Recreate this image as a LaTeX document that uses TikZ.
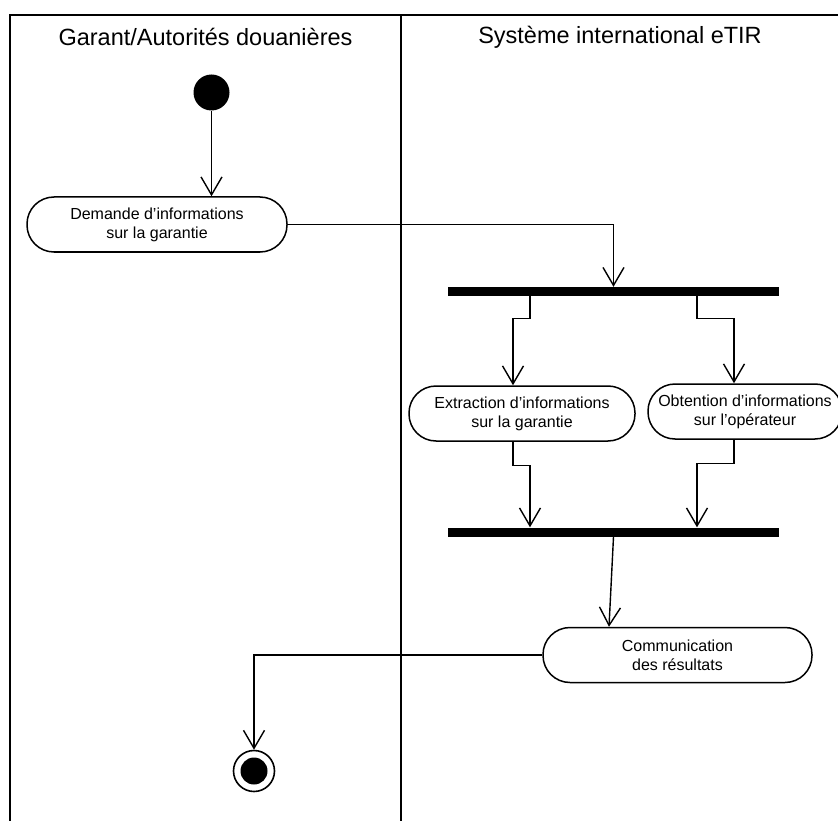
\documentclass[tikz,border=0pt]{standalone}
\usepackage{fontspec}
\setmainfont{Liberation Sans}
\usetikzlibrary{arrows.meta}
\begin{document}
\begin{tikzpicture}[x=1pt,y=-1pt,
  frameline/.style={line width=1.8pt},
  flow/.style={line width=1.4pt,-{Straight Barb[length=18pt,width=21pt,line width=1.4pt]}},
  activity/.style={draw,line width=1.5pt,rectangle,rounded corners=27pt,inner sep=0pt,
     align=center,minimum height=55pt,font=\fontsize{16}{19}\selectfont},
  bar/.style={fill=black,rectangle,inner sep=0pt,minimum width=331pt,minimum height=9pt},
  lanetitle/.style={font=\fontsize{23.5}{28}\selectfont,inner sep=0pt}]
\useasboundingbox (0,0) rectangle (838,821);
\begin{scope}
\clip (0,0) rectangle (838,821);
% swimlane frame
\draw[frameline] (10,822) -- (10,15) -- (839,15);
\draw[frameline] (401,15) -- (401,822);
\node[lanetitle] (t1) at (205.5,37) {Garant/Autorités douanières};
\node[lanetitle] (t2) at (620,37) {Système international eTIR};
% nodes
\node[circle,fill=black,minimum size=36pt,inner sep=0pt] (start) at (211.5,92.5) {};
\node[activity,minimum width=260pt] (act1) at (157,224.5) {Demande d’informations\\sur la garantie};
\node[bar] (fork) at (613.5,291.5) {};
\node[activity,minimum width=226pt] (act2) at (522,413.5) {Extraction d’informations\\sur la garantie};
\node[activity,minimum width=194pt] (act3) at (745,411.5) {Obtention d’informations\\sur l’opérateur};
\node[bar] (join) at (613.5,532) {};
\node[activity,minimum width=269pt] (comm) at (677.5,655) {Communication\\des résultats};
\node[circle,draw,fill=white,line width=1.6pt,minimum size=41pt,inner sep=0pt] (final) at (254,771) {};
\fill (final.center) circle (13.5);
% connectors
\draw[flow] (start.south) -- (start.south |- act1.north);
\draw[flow] (act1.east) -| (fork.north);
\draw[flow] ([xshift=-83.5pt]fork.south) -- ++(0,22) -| ([xshift=-9pt]act2.north);
\draw[flow] ([xshift=83.5pt]fork.south) -- ++(0,22) -| ([xshift=-11pt]act3.north);
\draw[flow] ([xshift=-9pt]act2.south) -- ++(0,24) -| ([xshift=-83.5pt]join.north);
\draw[flow] ([xshift=-11pt]act3.south) -- ++(0,24) -| ([xshift=83.5pt]join.north);
\draw[flow] (join.south) -- ([xshift=-68.5pt]comm.north);
\draw[flow] (comm.west) -| (final.north);
\end{scope}
\end{tikzpicture}
\end{document}
